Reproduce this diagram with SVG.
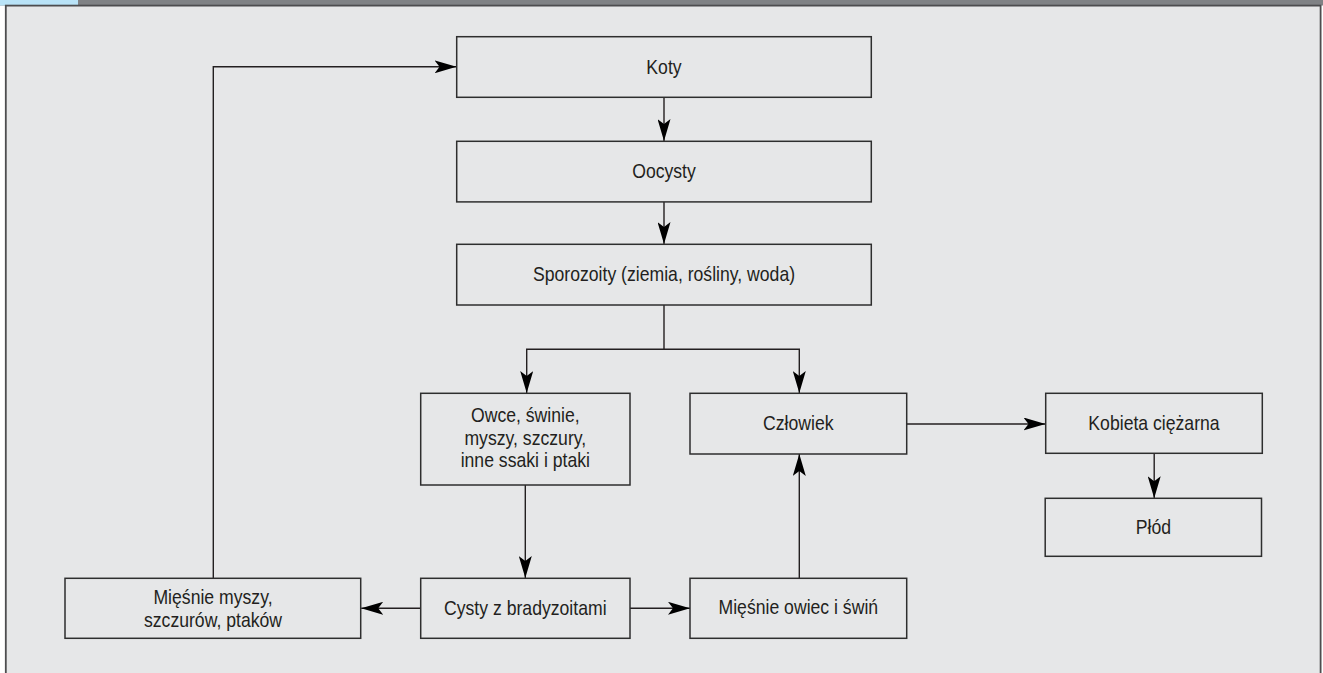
<svg xmlns="http://www.w3.org/2000/svg" width="1323" height="673" viewBox="0 0 1323 673">
  <style>
    .box { fill: #e6e7e8; stroke: #2e2e2e; stroke-width: 1.5; }
    .lbl { font-family: "Liberation Sans", Arial, sans-serif; font-size: 20.5px; fill: #231f20; text-anchor: middle; }
    .con { fill: none; stroke: #231f20; stroke-width: 1.4; }
  </style>
  <defs>
    <marker id="arr" viewBox="0 0 22 13" refX="22" refY="6.5" markerWidth="22" markerHeight="13" markerUnits="userSpaceOnUse" orient="auto">
      <path d="M0,0 L22,6.5 L0,13 L5,6.5 Z" fill="#000"/>
    </marker>
  </defs>
  <rect x="0" y="0" width="1323" height="673" fill="#ffffff"/>
  <rect x="0" y="0" width="1323" height="5.5" fill="#808285"/>
  <rect x="0" y="0" width="78" height="5.5" fill="#b9e3f7"/>
  <rect x="5.8" y="5.6" width="1314.8" height="680" fill="#e6e7e8" stroke="#4d4d4f" stroke-width="1.8"/>

  <g id="connectors">
    <path class="con" d="M213.3,578 V66.8 H456.5" marker-end="url(#arr)"/>
    <path class="con" d="M664,97.3 V141" marker-end="url(#arr)"/>
    <path class="con" d="M664,202 V244" marker-end="url(#arr)"/>
    <path class="con" d="M664,305 V349.3"/>
    <path class="con" d="M664,349.3 H526.7 V393" marker-end="url(#arr)"/>
    <path class="con" d="M664,349.3 H799.3 V393" marker-end="url(#arr)"/>
    <path class="con" d="M525.3,485 V578" marker-end="url(#arr)"/>
    <path class="con" d="M420.7,608.3 H361.2" marker-end="url(#arr)"/>
    <path class="con" d="M630,608.3 H690" marker-end="url(#arr)"/>
    <path class="con" d="M799.3,578 V454" marker-end="url(#arr)"/>
    <path class="con" d="M906.7,424 H1045.5" marker-end="url(#arr)"/>
    <path class="con" d="M1154.2,453.3 V498.2" marker-end="url(#arr)"/>
  </g>

  <g id="koty">
    <rect class="box" x="456.7" y="36.7" width="414.6" height="60.6"/>
    <text class="lbl" transform="translate(664,73.5) scale(0.86,1)">Koty</text>
  </g>
  <g id="oocysty">
    <rect class="box" x="456.7" y="141.3" width="414.6" height="60.6"/>
    <text class="lbl" transform="translate(664,178) scale(0.86,1)">Oocysty</text>
  </g>
  <g id="sporozoity">
    <rect class="box" x="456.7" y="244.3" width="414.6" height="60.7"/>
    <text class="lbl" transform="translate(664,281) scale(0.86,1)">Sporozoity (ziemia, rośliny, woda)</text>
  </g>
  <g id="owce">
    <rect class="box" x="420.7" y="393.3" width="209.3" height="91.7"/>
    <text class="lbl" transform="translate(525.3,422) scale(0.86,1)">Owce, świnie,</text>
    <text class="lbl" transform="translate(525.3,444.7) scale(0.86,1)">myszy, szczury,</text>
    <text class="lbl" transform="translate(525.3,467.4) scale(0.86,1)">inne ssaki i ptaki</text>
  </g>
  <g id="czlowiek">
    <rect class="box" x="690" y="393.3" width="216.7" height="60.7"/>
    <text class="lbl" transform="translate(798.3,430) scale(0.86,1)">Człowiek</text>
  </g>
  <g id="kobieta">
    <rect class="box" x="1045.7" y="393.3" width="216.6" height="60"/>
    <text class="lbl" transform="translate(1154,430) scale(0.86,1)">Kobieta ciężarna</text>
  </g>
  <g id="plod">
    <rect class="box" x="1045.2" y="498.3" width="216.3" height="58"/>
    <text class="lbl" transform="translate(1153.5,534) scale(0.86,1)">Płód</text>
  </g>
  <g id="miesnie-myszy">
    <rect class="box" x="65" y="578.3" width="295.7" height="60"/>
    <text class="lbl" transform="translate(213,604) scale(0.86,1)">Mięśnie myszy,</text>
    <text class="lbl" transform="translate(213,626.7) scale(0.86,1)">szczurów, ptaków</text>
  </g>
  <g id="cysty">
    <rect class="box" x="420.7" y="578.3" width="209.3" height="60"/>
    <text class="lbl" transform="translate(525.3,614.5) scale(0.86,1)">Cysty z bradyzoitami</text>
  </g>
  <g id="miesnie-owiec">
    <rect class="box" x="690" y="578.3" width="216.7" height="60"/>
    <text class="lbl" transform="translate(798.3,614) scale(0.86,1)">Mięśnie owiec i świń</text>
  </g>
</svg>
